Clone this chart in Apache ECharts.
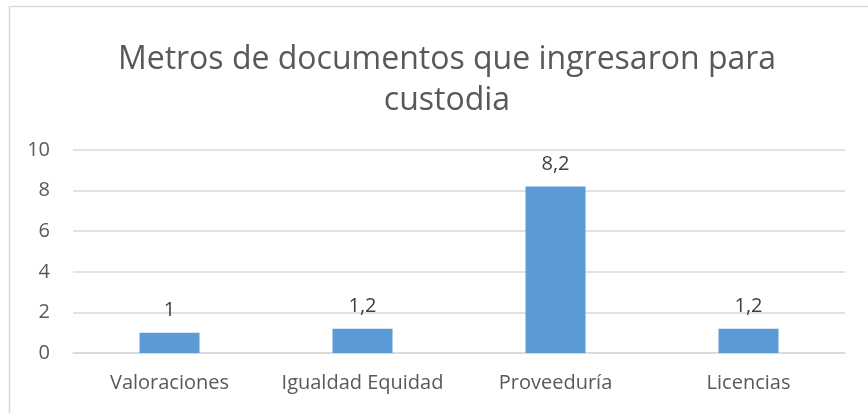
<!DOCTYPE html>
<html>
<head>
<meta charset="utf-8">
<script src="https://cdn.jsdelivr.net/npm/echarts@6/dist/echarts.min.js"></script>
<style>
  html, body { margin: 0; padding: 0; background: #fff; }
  #chart { width: 868px; height: 413px; }
</style>
</head>
<body>
<div id="chart"></div>
<script>
// categorías y valores (metros)
const categories = ['Valoraciones', 'Igualdad Equidad', 'Proveeduría', 'Licencias']
const values = [1, 1.2, 8.2, 1.2]
const yTicks = [0, 2, 4, 6, 8, 10]

const chart = echarts.init(document.getElementById('chart'))
const font = '"Open Sans", "Liberation Sans", sans-serif'

chart.setOption({
  animation: false,
  title: {
    text: 'Metros de documentos que ingresaron para\ncustodia',
    left: 442,
    textAlign: 'center',
    top: 34,
    textStyle: {
      fontFamily: font,
      fontSize: 32,
      fontWeight: 'normal',
      color: '#595959',
      lineHeight: 41
    }
  },
  graphic: [{
    type: 'rect',
    shape: { x: 9.5, y: 6.5, width: 880, height: 440 },
    style: { fill: 'none', stroke: '#d9d9d9', lineWidth: 1.5 },
    silent: true
  }],
  grid: { left: 73, right: 23, top: 150, bottom: 60 },
  xAxis: {
    type: 'category',
    data: categories,
    axisTick: { show: false },
    axisLine: { lineStyle: { color: '#d9d9d9', width: 1.5 } },
    axisLabel: {
      interval: 0,
      fontFamily: font,
      fontSize: 20,
      color: '#595959',
      margin: 20
    }
  },
  yAxis: {
    type: 'value',
    min: yTicks[0],
    max: yTicks[yTicks.length - 1],
    interval: yTicks[1] - yTicks[0],
    axisLine: { show: false },
    axisTick: { show: false },
    splitLine: { lineStyle: { color: '#d9d9d9', width: 1.5 } },
    axisLabel: {
      fontFamily: font,
      fontSize: 20,
      color: '#595959',
      margin: 23,
      formatter: v => String(v)
    }
  },
  series: [{
    type: 'bar',
    data: values,
    barWidth: 60,
    itemStyle: { color: '#5b9bd5' },
    label: {
      show: true,
      position: 'top',
      distance: 12,
      fontFamily: font,
      fontSize: 20,
      color: '#404040',
      formatter: p => String(p.value).replace('.', ',')
    }
  }]
})
</script>
</body>
</html>
